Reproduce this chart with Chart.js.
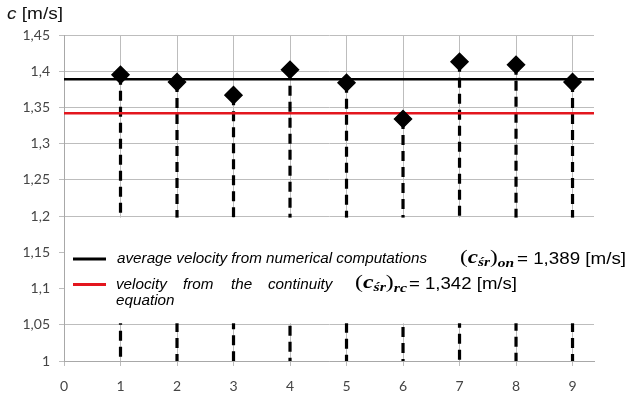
<!DOCTYPE html>
<html><head><meta charset="utf-8">
<script src="https://cdn.jsdelivr.net/npm/chart.js@4/dist/chart.umd.min.js"></script>
<style>html,body{margin:0;padding:0;background:#fff;}#wrap{position:relative;width:627px;height:396px;}</style>
</head><body><div id="wrap"><canvas id="c" width="627" height="396"></canvas></div>
<script>
// ---- data ----
const categories = [1, 2, 3, 4, 5, 6, 7, 8, 9];
const velocities = [1.395, 1.385, 1.367, 1.402, 1.384, 1.334, 1.413, 1.409, 1.385];
const avgNumerical = 1.389;
const continuityVelocity = 1.342;
const stemBase = 1;
const xTicks = [0, 1, 2, 3, 4, 5, 6, 7, 8, 9];
const xTickLabels = ['0', '1', '2', '3', '4', '5', '6', '7', '8', '9'];
const yTicks = [1, 1.05, 1.1, 1.15, 1.2, 1.25, 1.3, 1.35, 1.4, 1.45];
const yTickLabels = ['1', '1,05', '1,1', '1,15', '1,2', '1,25', '1,3', '1,35', '1,4', '1,45'];
const legendLabels = ['average velocity from numerical computations', 'velocity from the continuity equation'];
const legendValues = ['= 1,389 [m/s]', '= 1,342 [m/s]'];
const legendSubs = ['on', 'rc'];
const axisTitle = ['c', ' [m/s]'];
const xMin = 0, xMax = 9.38;

const RED = '#e3161e';
const GRID = '#bdbdbd';
const TICKC = '#454545';

// ---- datasets ----
const markerDs = {
  label: 'points', order: 0,
  data: categories.map((c, i) => ({x: c, y: velocities[i]})),
  showLine: false, pointStyle: 'rectRot', pointRadius: 8.5, pointHoverRadius: 8.5,
  backgroundColor: '#000', borderColor: '#000', borderWidth: 1.5
};
const avgDs = {
  label: 'avg', order: 1,
  data: [{x: xMin, y: avgNumerical}, {x: xMax, y: avgNumerical}],
  borderColor: '#000', borderWidth: 2.5, pointRadius: 0, fill: false
};
const contDs = {
  label: 'cont', order: 2,
  data: [{x: xMin, y: continuityVelocity}, {x: xMax, y: continuityVelocity}],
  borderColor: RED, borderWidth: 2.5, pointRadius: 0, fill: false
};
const stemDs = categories.map((c, i) => ({
  label: 'stem' + c, order: 3,
  data: [{x: c, y: velocities[i]}, {x: c, y: stemBase}],
  borderColor: '#000', borderWidth: 3.2, borderDash: [10, 6], pointRadius: 0, fill: false
}));

// ---- text helpers ----
function stretchText(ctx, pieces, x, baseline, targetWidth) {
  let w = 0;
  pieces.forEach(p => { ctx.font = p.font; p.w = ctx.measureText(p.t).width; w += p.w; });
  const s = targetWidth ? targetWidth / w : 1;
  ctx.save();
  ctx.translate(x, baseline);
  ctx.scale(s, 1);
  let cx = 0;
  pieces.forEach(p => {
    ctx.font = p.font; ctx.fillStyle = p.color || '#000';
    ctx.textBaseline = 'alphabetic'; ctx.textAlign = 'left';
    ctx.fillText(p.t, cx, p.dy || 0);
    cx += p.w;
  });
  ctx.restore();
  return s;
}

const legendPlugin = {
  id: 'legendBox',
  afterDatasetsDraw(chart) {
    const ctx = chart.ctx, a = chart.chartArea, ys = chart.scales.y;
    const top = ys.getPixelForValue(1.2) + 1.5;
    const bot = ys.getPixelForValue(1.05) - 1.5;
    ctx.save();
    ctx.fillStyle = '#fff';
    ctx.fillRect(a.left + 1, top, a.right - a.left - 1, bot - top);
    // sample lines
    ctx.lineWidth = 3;
    ctx.strokeStyle = '#000';
    ctx.beginPath(); ctx.moveTo(73, 259); ctx.lineTo(106, 259); ctx.stroke();
    ctx.strokeStyle = RED;
    ctx.beginPath(); ctx.moveTo(73, 284.5); ctx.lineTo(106, 284.5); ctx.stroke();
    const itf = 'italic 14px "Liberation Sans", Arial, sans-serif';
    const s1 = stretchText(ctx, [{t: legendLabels[0], font: itf}], 117, 262.5, 310);
    // line 2 justified words
    const words = legendLabels[1].split(' ');
    const wx = [116, 183, 231, 268];
    for (let i = 0; i < 4; i++) {
      ctx.font = itf;
      const w = ctx.measureText(words[i]).width * s1;
      stretchText(ctx, [{t: words[i], font: itf}], wx[i], 289, w);
    }
    ctx.font = itf;
    stretchText(ctx, [{t: words[4], font: itf}], 116, 304.5, ctx.measureText(words[4]).width * s1);
    // math
    const mf = 'bold italic 18px "Liberation Serif", "DejaVu Serif", serif';
    const mp = '18px "Liberation Serif", serif';
    const sf = 'bold italic 12px "Liberation Serif", "DejaVu Serif", serif';
    const math = (sub, x, base, w) => stretchText(ctx, [
      {t: '(', font: mp}, {t: 'c', font: mf}, {t: 'śr', font: sf, dy: 3},
      {t: ')', font: mp}, {t: sub, font: sf, dy: 4}
    ], x, base, w);
    math(legendSubs[0], 460, 263, 54);
    math(legendSubs[1], 355, 288, 52);
    const vf = '16px "Liberation Sans", Arial, sans-serif';
    stretchText(ctx, [{t: legendValues[0], font: vf}], 517, 264, 109);
    stretchText(ctx, [{t: legendValues[1], font: vf}], 409, 289, 108);
    ctx.restore();
  },
  afterDraw(chart) {
    const ctx = chart.ctx;
    stretchText(ctx, [
      {t: axisTitle[0], font: 'italic 17px "Liberation Sans", Arial, sans-serif', color: '#111'},
      {t: axisTitle[1], font: '17px "Liberation Sans", Arial, sans-serif', color: '#111'}
    ], 7, 19, 56);
  }
};

new Chart(document.getElementById('c'), {
  type: 'line',
  data: {datasets: [markerDs, avgDs, contDs, ...stemDs]},
  options: {
    responsive: false, animation: false, devicePixelRatio: 1,
    layout: {padding: {top: 35, right: 33, left: 0, bottom: 0}},
    plugins: {legend: {display: false}, tooltip: {enabled: false}},
    elements: {line: {tension: 0}},
    scales: {
      x: {
        type: 'linear', min: xMin, max: xMax,
        afterBuildTicks: s => { s.ticks = xTicks.map(v => ({value: v})); },
        afterFit: s => { s.height = 35; },
        ticks: {callback: (v, i) => xTickLabels[i], font: {family: 'Lato', size: 14}, color: TICKC, padding: 12, maxRotation: 0, autoSkip: false},
        grid: {color: GRID, lineWidth: 1, tickLength: 5},
        border: {color: '#a8a8a8', width: 1}
      },
      y: {
        type: 'linear', min: 1, max: 1.45,
        afterBuildTicks: s => { s.ticks = yTicks.map(v => ({value: v})); },
        afterFit: s => { s.width = 64; },
        ticks: {callback: (v, i) => yTickLabels[i], font: {family: 'Lato', size: 14}, color: TICKC, padding: 9, autoSkip: false},
        grid: {color: GRID, lineWidth: 1, tickLength: 5},
        border: {color: '#a8a8a8', width: 1}
      }
    }
  },
  plugins: [legendPlugin]
});
</script></body></html>
